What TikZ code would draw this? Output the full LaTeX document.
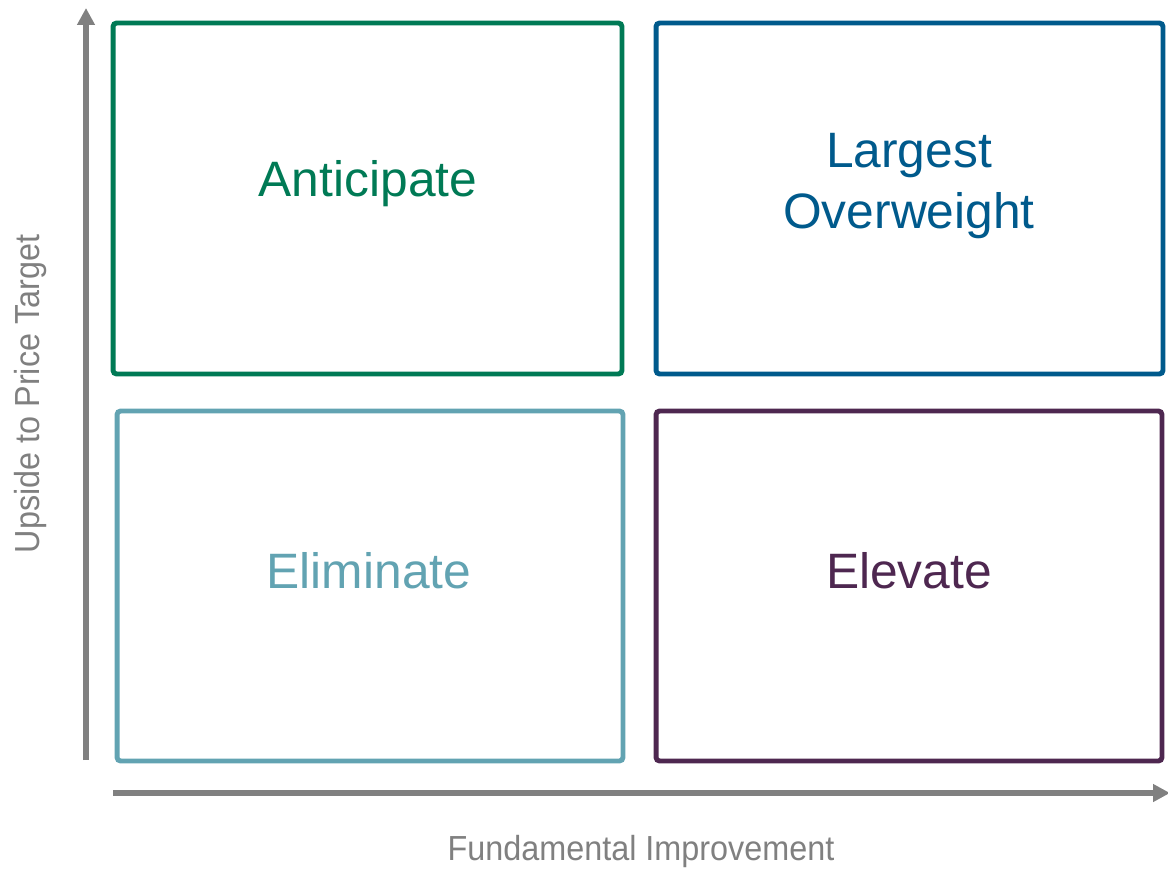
\documentclass[tikz,border=0pt]{standalone}
\usepackage{fontspec}
\setmainfont{Liberation Sans}
\newfontfamily\axisfont[FakeStretch=0.93]{Liberation Sans}
\usetikzlibrary{arrows.meta}
\definecolor{antgreen}{HTML}{007A55}
\definecolor{ovblue}{HTML}{005A8C}
\definecolor{elimteal}{HTML}{62A3B2}
\definecolor{elevpurple}{HTML}{4E2750}
\definecolor{axisgray}{HTML}{808080}
\tikzset{
  quad/.style={draw, line width=2.8pt, rounded corners=2pt, inner sep=0pt},
  quadtext/.style={font=\fontsize{28.3}{34.5}\selectfont, align=center},
  axisarrow/.style={draw=axisgray, line width=3.3pt, -{Triangle[length=9.6pt, width=9.6pt]}},
  axislabel/.style={text=axisgray, font=\axisfont\fontsize{19.8}{24}\selectfont}
}
\begin{document}
\begin{tikzpicture}[x=0.02cm,y=-0.02cm]
\useasboundingbox (0,0) rectangle (1168,868);
% quadrants
\node[quad, draw=antgreen, minimum width=10.18cm, minimum height=7.02cm] (nw) at (367.5,198.5) {};
\node[quad, draw=ovblue, minimum width=10.14cm, minimum height=7.02cm] (ne) at (909.5,198.5) {};
\node[quad, draw=elimteal, minimum width=10.12cm, minimum height=7.0cm] (sw) at (370,586) {};
\node[quad, draw=elevpurple, minimum width=10.12cm, minimum height=7.0cm] (se) at (909,586) {};
\node[quadtext, text=antgreen] (ant) at (368,184) {Anticipate};
\node[quadtext, text=ovblue] (lo) at (909,186) {Largest\\Overweight};
\node[quadtext, text=elimteal] (elim) at (369,571) {Eliminate};
\node[quadtext, text=elevpurple] (elev) at (909,571) {Elevate};
% axes
\coordinate (yfrom) at (86,760);
\coordinate (yto) at (86,8);
\coordinate (xfrom) at (113,793);
\coordinate (xto) at (1170,793);
\draw[axisarrow] (yfrom) -- (yto);
\draw[axisarrow] (xfrom) -- (xto);
\node[axislabel, rotate=90] (ylab) at (31,394) {Upside to Price Target};
\node[axislabel] (xlab) at (641,851) {Fundamental Improvement};
\end{tikzpicture}
\end{document}
